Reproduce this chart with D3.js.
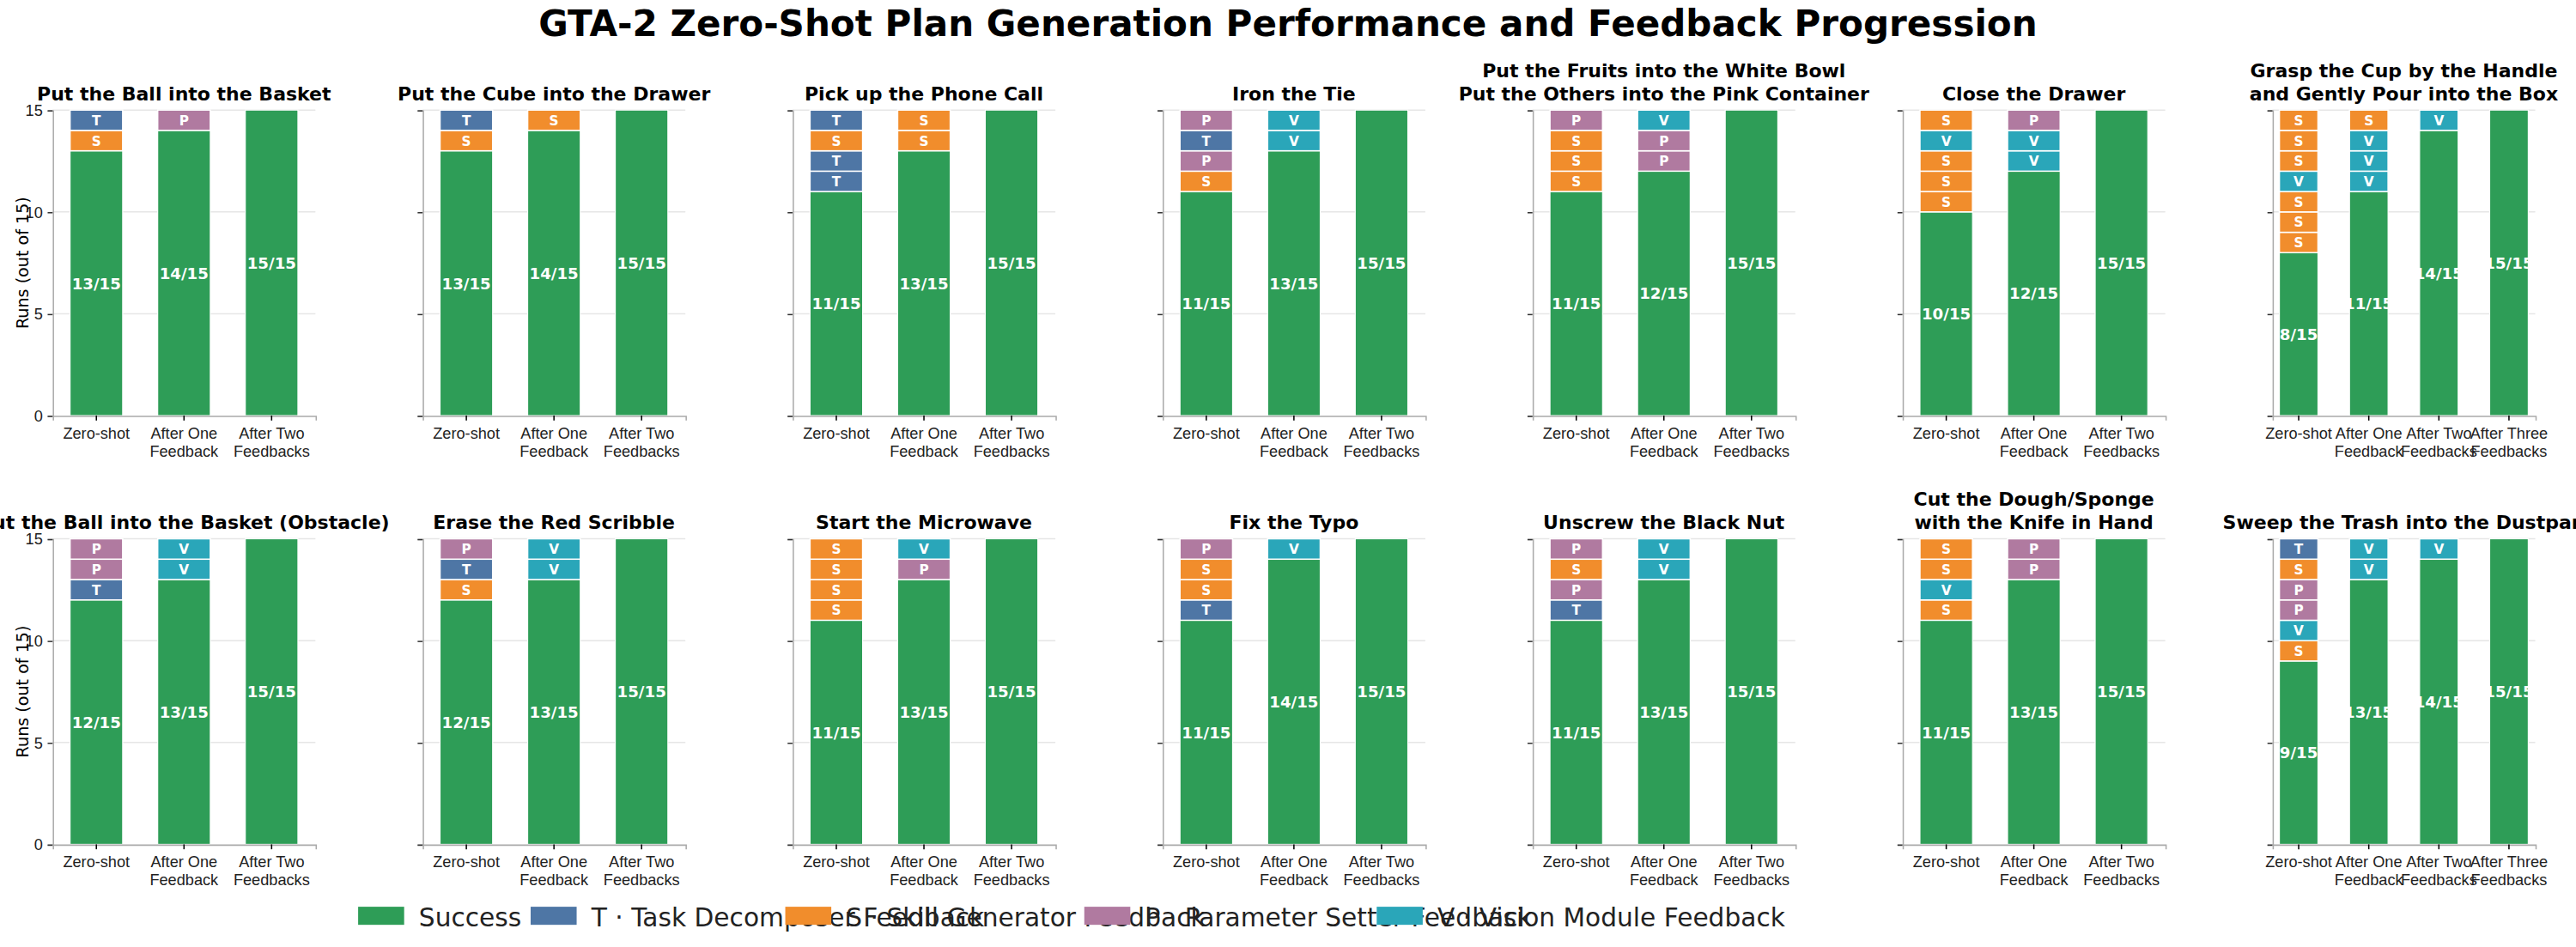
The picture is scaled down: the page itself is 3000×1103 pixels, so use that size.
<!DOCTYPE html>
<html>
<head>
<meta charset="utf-8">
<title>GTA-2</title>
<script src="https://cdn.jsdelivr.net/npm/d3@7"></script>
<style>
body{margin:0;background:#fff;font-family:"DejaVu Sans",sans-serif;}
</style>
</head>
<body>
<script>
var width = 3000, height = 1103;

// task titles (rows of 7)
var tasks = [
  ["Put the Ball into the Basket"],
  ["Put the Cube into the Drawer"],
  ["Pick up the Phone Call"],
  ["Iron the Tie"],
  ["Put the Fruits into the White Bowl", "Put the Others into the Pink Container"],
  ["Close the Drawer"],
  ["Grasp the Cup by the Handle", "and Gently Pour into the Box"],
  ["Put the Ball into the Basket (Obstacle)"],
  ["Erase the Red Scribble"],
  ["Start the Microwave"],
  ["Fix the Typo"],
  ["Unscrew the Black Nut"],
  ["Cut the Dough/Sponge", "with the Knife in Hand"],
  ["Sweep the Trash into the Dustpan"]
];

var stages3 = ["Zero-shot", "After One|Feedback", "After Two|Feedbacks"];
var stages4 = ["Zero-shot", "After One|Feedback", "After Two|Feedbacks", "After Three|Feedbacks"];

// successes per stage
var successes = [
  [13, 14, 15], [13, 14, 15], [11, 13, 15], [11, 13, 15], [11, 12, 15], [10, 12, 15], [8, 11, 14, 15],
  [12, 13, 15], [12, 13, 15], [11, 13, 15], [11, 14, 15], [11, 13, 15], [11, 13, 15], [9, 13, 14, 15]
];

// failed runs per stage, listed from bottom to top
var failures = [
  ["ST", "P", ""], ["ST", "S", ""], ["TTST", "SS", ""], ["SPTP", "VV", ""],
  ["SSSP", "PPV", ""], ["SSSVS", "VVP", ""], ["SSSVSSS", "VVVS", "V", ""],
  ["TPP", "VV", ""], ["STP", "VV", ""], ["SSSS", "PV", ""], ["TSSP", "V", ""],
  ["TPSP", "VV", ""], ["SVSS", "PP", ""], ["SVPPST", "VV", "V", ""]
];

var legendItems = [
  ["G", "Success"],
  ["T", "T · Task Decomposer Feedback"],
  ["S", "S · Skill Generator Feedback"],
  ["P", "P · Parameter Setter Feedback"],
  ["V", "V · Vision Module Feedback"]
];

var colors = {G: "#2e9d57", T: "#4e76a5", S: "#f18d2c", P: "#b07aa0", V: "#2aa6b9"};

var svg = d3.select("body").append("svg").attr("width", width).attr("height", height);
// layout drawn in a 1568-wide frame, scaled up to the page
var root = svg.append("g").attr("transform", "scale(" + (width / 1568) + ")");

root.append("text").attr("x", 784).attr("y", 22).attr("text-anchor", "middle")
  .attr("font-size", 22).attr("font-weight", "bold")
  .text("GTA-2 Zero-Shot Plan Generation Performance and Feedback Progression");

var pw = 160, rowTop = [67, 328], ph = 186, colX0 = 32, colStep = 225.2;

var y = d3.scaleLinear().domain([0, 15]).range([ph, 0]);

tasks.forEach(function (title, i) {
  var col = i % 7, row = Math.floor(i / 7);
  var g = root.append("g").attr("transform", "translate(" + (colX0 + col * colStep) + "," + rowTop[row] + ")");
  var stages = successes[i].length == 4 ? stages4 : stages3;
  var x = d3.scaleBand().domain(stages).range([0, pw]).paddingInner(0.4).paddingOuter(0.2);
  if (stages.length == 4) x.paddingInner(0.45).paddingOuter(0.1);

  // grid
  g.selectAll(".grid").data([5, 10, 15]).enter().append("line")
    .attr("x1", 0).attr("x2", pw).attr("y1", y).attr("y2", y)
    .attr("stroke", "#e6e6e6").attr("stroke-width", 0.8);

  stages.forEach(function (s, j) {
    var ok = successes[i][j];
    g.append("rect").attr("x", x(s)).attr("width", x.bandwidth())
      .attr("y", y(ok)).attr("height", y(0) - y(ok))
      .attr("fill", colors.G).attr("stroke", "#fff").attr("stroke-width", 0.6);
    g.append("text").attr("x", x(s) + x.bandwidth() / 2).attr("y", y(ok / 2) + 3.5)
      .attr("text-anchor", "middle").attr("fill", "#fff").attr("font-weight", "bold")
      .attr("font-size", 9.5).text(ok + "/15");
    failures[i][j].split("").forEach(function (f, k) {
      var v0 = ok + k;
      g.append("rect").attr("x", x(s)).attr("width", x.bandwidth())
        .attr("y", y(v0 + 1)).attr("height", y(v0) - y(v0 + 1))
        .attr("fill", colors[f]).attr("stroke", "#fff").attr("stroke-width", 0.8);
      g.append("text").attr("x", x(s) + x.bandwidth() / 2).attr("y", y(v0 + 0.5) + 3)
        .attr("text-anchor", "middle").attr("fill", "#fff").attr("font-weight", "bold")
        .attr("font-size", 8).text(f);
    });
  });

  // axes
  var ya = g.append("g").call(d3.axisLeft(y).tickValues([0, 5, 10, 15]).tickSize(3)
    .tickFormat(col == 0 ? d3.format("d") : ""));
  ya.select(".domain").attr("stroke", "#aaa").attr("stroke-width", 0.8);
  ya.selectAll(".tick line").attr("stroke", "#333").attr("stroke-width", 0.8);
  ya.selectAll("text").attr("font-size", 9.5).attr("fill", "#222");

  var xa = g.append("g").attr("transform", "translate(0," + ph + ")")
    .call(d3.axisBottom(x).tickSize(3));
  xa.select(".domain").attr("stroke", "#aaa").attr("stroke-width", 0.8);
  xa.selectAll(".tick line").attr("stroke-width", 0.8);
  xa.selectAll("text").remove();
  xa.selectAll(".tick").each(function (d) {
    var t = d3.select(this).append("text").attr("fill", "#222").attr("font-size", 9.5)
      .attr("text-anchor", "middle");
    d.split("|").forEach(function (ln, k) {
      t.append("tspan").attr("x", 0).attr("y", 14 + k * 11).text(ln);
    });
  });

  // title
  var tt = g.append("text").attr("text-anchor", "middle").attr("font-size", 11.5).attr("font-weight", "bold");
  title.forEach(function (ln, k) {
    tt.append("tspan").attr("x", pw / 2).attr("y", -6 - (title.length - 1 - k) * 14).text(ln);
  });

  if (col == 0) {
    g.append("text").attr("transform", "translate(-15," + ph / 2 + ") rotate(-90)")
      .attr("text-anchor", "middle").attr("font-size", 10).text("Runs (out of 15)");
  }
});

// legend
var lx = [218, 323, 478, 660, 838];
var legend = root.selectAll(".leg").data(legendItems).enter().append("g")
  .attr("transform", function (d, i) { return "translate(" + lx[i] + ",552)"; });
legend.append("rect").attr("width", 28).attr("height", 11).attr("fill", function (d) { return colors[d[0]]; });
legend.append("text").attr("x", 37).attr("y", 12).attr("font-size", 15.5).attr("fill", "#222")
  .text(function (d) { return d[1]; });
</script>
</body>
</html>
